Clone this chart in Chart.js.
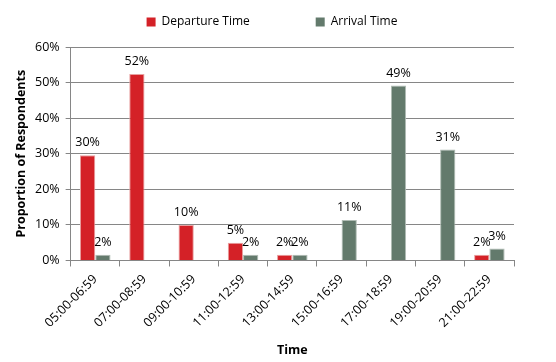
<!DOCTYPE html>
<html><head><meta charset="utf-8">
<script src="https://cdn.jsdelivr.net/npm/chart.js@4"></script>
<style>html,body{margin:0;padding:0;background:#fff}#w{width:556px;height:362px}</style>
</head><body><div id="w"><canvas id="c" width="556" height="362"></canvas></div>
<script>
const categories = ["05:00-06:59","07:00-08:59","09:00-10:59","11:00-12:59","13:00-14:59","15:00-16:59","17:00-18:59","19:00-20:59","21:00-22:59"];
const departure = [29.6, 52.4, 10.0, 5.0, 1.6, 0, 0, 0, 1.6];
const arrival = [1.6, 0, 0, 1.6, 1.6, 11.4, 49.2, 31.2, 3.4];
const yTicks = [0, 10, 20, 30, 40, 50, 60];

const FONT = "'Open Sans', sans-serif";
const labelPlugin = {
  id: 'valLabels',
  afterInit(chart) {
    const lg = chart.legend;
    if (lg && !lg._patched) {
      const f = lg.fit.bind(lg);
      lg.fit = function () { f(); this.height += 9; };
      lg._patched = true;
    }
  },
  afterDatasetsDraw(chart) {
    const ctx = chart.ctx;
    ctx.save();
    ctx.font = "12.5px " + FONT;
    ctx.fillStyle = '#000';
    ctx.textAlign = 'center';
    ctx.textBaseline = 'bottom';
    chart.data.datasets.forEach((ds, i) => {
      const meta = chart.getDatasetMeta(i);
      meta.data.forEach((el, j) => {
        const v = ds.data[j];
        if (v > 0) ctx.fillText(Math.round(v) + '%', el.x, el.y - 6);
      });
    });
    ctx.restore();
  }
};

new Chart(document.getElementById('c'), {
  type: 'bar',
  data: {
    labels: categories,
    datasets: [
      {label: 'Departure Time', data: departure, backgroundColor: '#d42127', borderColor: '#e8a0a0', borderWidth: {left:1,right:1,top:1,bottom:0}},
      {label: 'Arrival Time', data: arrival, backgroundColor: '#637a6c', borderColor: '#b0bcb4', borderWidth: {left:1,right:1,top:1,bottom:0}}
    ]
  },
  options: {
    responsive: false,
    animation: false,
    devicePixelRatio: 1,
    layout: {padding: {left: 14, right: 26, top: 0, bottom: 4}},
    datasets: {bar: {categoryPercentage: 0.62, barPercentage: 1.0}},
    plugins: {
      tooltip: {enabled: false},
      legend: {
        position: 'top',
        labels: {
          boxWidth: 9, boxHeight: 9, padding: 16, color: '#000',
          font: {family: FONT, size: 12},
          generateLabels(chart) {
            const items = Chart.defaults.plugins.legend.labels.generateLabels(chart);
            items.forEach(it => { it.lineWidth = 0; });
            items[0].text = items[0].text + '\u00a0'.repeat(16);
            return items;
          }
        }
      }
    },
    scales: {
      x: {
        grid: {display: true, drawOnChartArea: false, offset: true, tickLength: 6, color: '#868686'},
        border: {color: '#868686'},
        ticks: {color: '#000', font: {family: FONT, size: 12.5}, minRotation: 45, maxRotation: 45, padding: 5.5},
        title: {display: true, text: 'Time', color: '#000', font: {family: FONT, size: 12.5, weight: 'bold'}, padding: {top: 7, bottom: 0}}
      },
      y: {
        min: 0, max: 60,
        afterBuildTicks(axis) { axis.ticks = yTicks.map(v => ({value: v})); },
        grid: {color: '#868686', tickLength: 5},
        border: {color: '#868686'},
        ticks: {color: '#000', font: {family: FONT, size: 12.5}, padding: 6, callback: v => v + '%'},
        title: {display: true, text: 'Proportion of Respondents', color: '#000', font: {family: FONT, size: 12.5, weight: 'bold'}, padding: {top: 0, bottom: 0}}
      },
      yR: {
        position: 'right',
        display: true,
        grid: {display: false},
        border: {display: false},
        ticks: {display: false},
        afterFit(axis) { axis.width = 16; }
      }
    }
  },
  plugins: [labelPlugin]
});
</script></body></html>
